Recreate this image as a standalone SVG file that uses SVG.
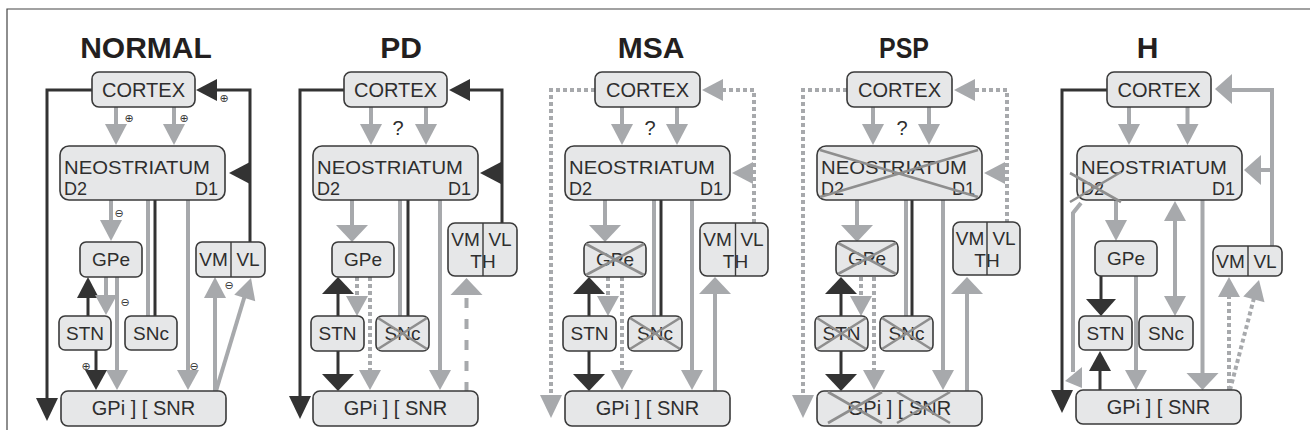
<svg xmlns="http://www.w3.org/2000/svg" width="1310" height="438" viewBox="0 0 1310 438">
  <style>
    .d { stroke: #333333; fill: none; stroke-width: 3; }
    .g { stroke: #a7a9ac; fill: none; stroke-width: 4; }
    .fd { fill: #333333; }
    .fg { fill: #a7a9ac; }
    .dot { stroke-dasharray: 4 3; }
    .box { fill: #e6e7e8; stroke: #3a3a3a; stroke-width: 1.6; }
    .div { stroke: #3a3a3a; stroke-width: 1.4; }
    .x { stroke: #8e8e8e; stroke-width: 2.6; fill: none; }
    .t { font-family: 'Liberation Sans', Arial, sans-serif; font-size: 20px; fill: #2e2e2e; }
    .s { font-size: 19px; }
    .n { font-size: 18px; }
    .m { text-anchor: middle; }
    .e { text-anchor: end; }
    .ttl { font-family: 'Liberation Sans', Arial, sans-serif; font-weight: bold; font-size: 30px; fill: #231f20; text-anchor: middle; }
    .sg { font-family: 'DejaVu Sans', sans-serif; font-size: 11px; fill: #333333; text-anchor: middle; }
    .frame { stroke: #444444; stroke-width: 1.2; fill: none; }
  </style>
  <defs>
    <!-- arrowheads: tip at origin, pointing down (+y) -->
    <path id="hs" d="M-11,-21 L11,-21 L0,0 Z"/>
    <path id="hm" d="M-11,-20 L11,-20 L0,0 Z"/>
    <path id="hl" d="M-16,-17 L16,-17 L0,0 Z"/>
    <path id="hk" d="M-11,-23 L11,-23 L0,0 Z"/>
    <path id="hw" d="M-15,-17 L15,-17 L0,0 Z"/>
  </defs>

  <rect width="1310" height="438" fill="#ffffff"/>
  <path class="frame" d="M7,430 V9 H1310"/>

  <!-- titles -->
  <text class="ttl" x="146" y="58">NORMAL</text>
  <text class="ttl" x="401" y="58">PD</text>
  <text class="ttl" x="651" y="58">MSA</text>
  <text class="ttl" x="904" y="58" textLength="50" lengthAdjust="spacingAndGlyphs">PSP</text>
  <text class="ttl" x="1147.5" y="58">H</text>

  <!-- ===================== NORMAL ===================== -->
  <g id="normal">
    <g id="normal-connectors">
      <path class="d" d="M92,90 H47 V400"/>
      <use href="#hk" class="fd" transform="translate(47,421)"/>
      <path class="d" stroke-width="3.5" d="M250,242 V90 H214"/>
      <use href="#hs" class="fd" transform="translate(196,90) rotate(90)"/>
      <use href="#hs" class="fd" transform="translate(229,173) rotate(90)"/>
      <path class="g" d="M116,107 V126 M174,107 V126"/>
      <use href="#hs" class="fg" transform="translate(116,145)"/>
      <use href="#hs" class="fg" transform="translate(174,145)"/>
      <path class="g" d="M111,200 V222"/>
      <use href="#hs" class="fg" transform="translate(111,241)"/>
      <path class="g" stroke-width="2" d="M148,200 V316"/>
      <path class="d" d="M155,200 V316"/>
      <path class="g" d="M188,200 V372"/>
      <use href="#hm" class="fg" transform="translate(188,390)"/>
      <path class="d" stroke-width="4" d="M88,316 V296"/>
      <use href="#hs" class="fd" transform="translate(88,277) rotate(180)"/>
      <path class="g" d="M106,277 V297"/>
      <use href="#hm" class="fg" transform="translate(106,315)"/>
      <path class="g" d="M117,277 V372"/>
      <use href="#hm" class="fg" transform="translate(117,390)"/>
      <path class="d" stroke-width="4" d="M96,350 V372"/>
      <use href="#hm" class="fd" transform="translate(96,390)"/>
      <path class="g" d="M215,391 V296"/>
      <use href="#hs" class="fg" transform="translate(215,277) rotate(180)"/>
      <path class="g" d="M216,391 L245,295"/>
      <use href="#hs" class="fg" transform="translate(251,278) rotate(197.3)"/>
      <text class="sg" x="224" y="102">⊕</text>
      <text class="sg" x="129" y="122">⊕</text>
      <text class="sg" x="184" y="122">⊕</text>
      <text class="sg" x="119" y="217">⊖</text>
      <text class="sg" x="125" y="306">⊖</text>
      <text class="sg" x="194" y="370">⊖</text>
      <text class="sg" x="86" y="370">⊕</text>
      <text class="sg" x="229" y="289">⊖</text>
    </g>
    <g id="normal-cortex"><rect class="box" x="92" y="72" width="103" height="35" rx="7"/><text class="t m" x="143.5" y="97">CORTEX</text></g>
    <g id="normal-neostriatum"><rect class="box" x="60" y="146" width="165" height="54" rx="9"/><text class="t n" x="64" y="174" textLength="146" lengthAdjust="spacingAndGlyphs">NEOSTRIATUM</text><text class="t n" x="64" y="195">D2</text><text class="t n e" x="218" y="195">D1</text></g>
    <g id="normal-gpe"><rect class="box" x="80" y="242" width="62" height="35" rx="6"/><text class="t s m" x="111" y="266">GPe</text></g>
    <g id="normal-stn"><rect class="box" x="59" y="316" width="52" height="34" rx="6"/><text class="t s m" x="85" y="340">STN</text></g>
    <g id="normal-snc"><rect class="box" x="125" y="316" width="52" height="34" rx="6"/><text class="t s m" x="151" y="340">SNc</text></g>
    <g id="normal-gpi-snr"><rect class="box" x="61" y="391" width="165" height="35" rx="7"/><text class="t m" x="143.5" y="415">GPi ] [ SNR</text></g>
    <g id="normal-vm-vl"><rect class="box" x="196" y="242" width="69" height="35" rx="6"/><line class="div" x1="231" y1="242" x2="231" y2="277"/><text class="t s m" x="213.5" y="266">VM</text><text class="t s m" x="248" y="266">VL</text></g>
  </g>

  <!-- ===================== PD ===================== -->
  <g id="pd" transform="translate(252,0)">
    <g id="pd-connectors">
      <path class="d" d="M92,90 H48 V398"/>
      <use href="#hk" class="fd" transform="translate(48,419)"/>
      <path class="d" stroke-width="3.5" d="M250,223 V90 H216"/>
      <use href="#hs" class="fd" transform="translate(197,90) rotate(90)"/>
      <use href="#hs" class="fd" transform="translate(228,173) rotate(90)"/>
      <path class="g" d="M119,107 V126 M174,107 V126"/>
      <use href="#hs" class="fg" transform="translate(119,145)"/>
      <use href="#hs" class="fg" transform="translate(174,145)"/>
      <text class="t m" x="146" y="135">?</text>
      <path class="g" stroke-width="11" d="M100,200 V227"/>
      <use href="#hl" class="fg" transform="translate(100,242)"/>
      <path class="g" stroke-width="2" d="M148,200 V316"/>
      <path class="d" d="M156,200 V316"/>
      <path class="g" d="M188,200 V372"/>
      <use href="#hm" class="fg" transform="translate(188,390)"/>
      <path class="d" stroke-width="10" d="M86,316 V290"/>
      <use href="#hl" class="fd" transform="translate(86,277) rotate(180)"/>
      <path class="d" stroke-width="10" d="M86,350 V377"/>
      <use href="#hl" class="fd" transform="translate(86,391)"/>
      <path class="g dot" d="M105,277 V298"/>
      <use href="#hm" class="fg" transform="translate(105,316)"/>
      <path class="g dot" d="M118,277 V372"/>
      <use href="#hm" class="fg" transform="translate(118,390)"/>
      <path class="g" stroke-width="13" stroke-dasharray="10 11" d="M214.5,392 V294"/>
      <use href="#hl" class="fg" transform="translate(214.5,278) rotate(180)"/>
    </g>
    <g id="pd-cortex"><rect class="box" x="92" y="72" width="103" height="35" rx="7"/><text class="t m" x="143.5" y="97">CORTEX</text></g>
    <g id="pd-neostriatum"><rect class="box" x="61" y="146" width="165" height="54" rx="9"/><text class="t n" x="65" y="174" textLength="146" lengthAdjust="spacingAndGlyphs">NEOSTRIATUM</text><text class="t n" x="65" y="195">D2</text><text class="t n e" x="219" y="195">D1</text></g>
    <g id="pd-gpe"><rect class="box" x="80" y="242" width="62" height="35" rx="6"/><text class="t s m" x="111" y="266">GPe</text></g>
    <g id="pd-stn"><rect class="box" x="59" y="316" width="53" height="35" rx="6"/><text class="t s m" x="85.5" y="340">STN</text></g>
    <g id="pd-snc"><rect class="box" x="124" y="316" width="53" height="35" rx="6"/><text class="t s m" x="150.5" y="340">SNc</text><path class="x" d="M126,318 L175,349 M126,349 L175,318"/></g>
    <g id="pd-gpi-snr"><rect class="box" x="61" y="391" width="165" height="35" rx="7"/><text class="t m" x="143.5" y="415">GPi ] [ SNR</text></g>
    <g id="pd-vm-vl-th"><rect class="box" x="196" y="223" width="69" height="53" rx="7"/><line class="div" x1="231" y1="223" x2="231" y2="276"/><text class="t s m" x="213.5" y="246">VM</text><text class="t s m" x="248" y="246">VL</text><text class="t s m" x="231" y="268">TH</text></g>
  </g>

  <!-- ===================== MSA ===================== -->
  <g id="msa" transform="translate(504,0)">
    <g id="msa-connectors">
      <path class="g dot" d="M91,90 H47 V399"/>
      <use href="#hk" class="fg" transform="translate(47,418)"/>
      <path class="g dot" d="M250,223 V90 H218"/>
      <use href="#hs" class="fg" transform="translate(198,90) rotate(90)"/>
      <use href="#hs" class="fg" transform="translate(228,173) rotate(90)"/>
      <path class="g" d="M118,107 V126 M173,107 V126"/>
      <use href="#hs" class="fg" transform="translate(118,145)"/>
      <use href="#hs" class="fg" transform="translate(173,145)"/>
      <text class="t m" x="146" y="135">?</text>
      <path class="g" stroke-width="11" d="M101,200 V227"/>
      <use href="#hl" class="fg" transform="translate(101,242)"/>
      <path class="g" stroke-width="2" d="M150,200 V316"/>
      <path class="d" d="M157,200 V316"/>
      <path class="g" d="M188,200 V372"/>
      <use href="#hm" class="fg" transform="translate(188,390)"/>
      <path class="d" stroke-width="10" d="M85,316 V290"/>
      <use href="#hl" class="fd" transform="translate(85,277) rotate(180)"/>
      <path class="d" stroke-width="10" d="M85,351 V377"/>
      <use href="#hl" class="fd" transform="translate(85,391)"/>
      <path class="g dot" d="M104,277 V298"/>
      <use href="#hm" class="fg" transform="translate(104,316)"/>
      <path class="g dot" d="M118,277 V372"/>
      <use href="#hm" class="fg" transform="translate(118,390)"/>
      <path class="g" stroke-width="12" d="M211,391 V291"/>
      <use href="#hl" class="fg" transform="translate(211,277) rotate(180)"/>
    </g>
    <g id="msa-cortex"><rect class="box" x="91" y="72" width="105" height="35" rx="7"/><text class="t m" x="143.5" y="97">CORTEX</text></g>
    <g id="msa-neostriatum"><rect class="box" x="61" y="146" width="165" height="54" rx="9"/><text class="t n" x="65" y="174" textLength="146" lengthAdjust="spacingAndGlyphs">NEOSTRIATUM</text><text class="t n" x="65" y="195">D2</text><text class="t n e" x="219" y="195">D1</text></g>
    <g id="msa-gpe"><rect class="box" x="80" y="242" width="62" height="35" rx="6"/><text class="t s m" x="111" y="266">GPe</text><path class="x" d="M82,244 L140,275 M82,275 L140,244"/></g>
    <g id="msa-stn"><rect class="box" x="59" y="316" width="53" height="35" rx="6"/><text class="t s m" x="85.5" y="340">STN</text></g>
    <g id="msa-snc"><rect class="box" x="124" y="316" width="54" height="35" rx="6"/><text class="t s m" x="151" y="340">SNc</text><path class="x" d="M126,318 L176,349 M126,349 L176,318"/></g>
    <g id="msa-gpi-snr"><rect class="box" x="61" y="391" width="165" height="35" rx="7"/><text class="t m" x="143.5" y="415">GPi ] [ SNR</text></g>
    <g id="msa-vm-vl-th"><rect class="box" x="196" y="223" width="68" height="53" rx="7"/><line class="div" x1="231.5" y1="223" x2="231.5" y2="276"/><text class="t s m" x="213.5" y="246">VM</text><text class="t s m" x="248" y="246">VL</text><text class="t s m" x="231.5" y="268">TH</text></g>
  </g>

  <!-- ===================== PSP ===================== -->
  <g id="psp" transform="translate(756,0)">
    <g id="psp-connectors">
      <path class="g dot" d="M91,90 H47 V399"/>
      <use href="#hk" class="fg" transform="translate(47,418)"/>
      <path class="g dot" d="M251,223 V90 H218"/>
      <use href="#hs" class="fg" transform="translate(198,90) rotate(90)"/>
      <use href="#hs" class="fg" transform="translate(228,173) rotate(90)"/>
      <path class="g" d="M117,107 V126 M173,107 V126"/>
      <use href="#hs" class="fg" transform="translate(117,145)"/>
      <use href="#hs" class="fg" transform="translate(173,145)"/>
      <text class="t m" x="146" y="135">?</text>
      <path class="g" stroke-width="11" d="M101,200 V227"/>
      <use href="#hl" class="fg" transform="translate(101,242)"/>
      <path class="g" stroke-width="2" d="M150,200 V316"/>
      <path class="d" d="M156,200 V316"/>
      <path class="g" d="M187,200 V372"/>
      <use href="#hm" class="fg" transform="translate(187,390)"/>
      <path class="d" stroke-width="10" d="M85,316 V290"/>
      <use href="#hl" class="fd" transform="translate(85,277) rotate(180)"/>
      <path class="d" stroke-width="10" d="M85,351 V377"/>
      <use href="#hl" class="fd" transform="translate(85,391)"/>
      <path class="g dot" d="M105,277 V298"/>
      <use href="#hm" class="fg" transform="translate(105,316)"/>
      <path class="g dot" d="M118,277 V372"/>
      <use href="#hm" class="fg" transform="translate(118,390)"/>
      <path class="g" stroke-width="12" d="M211,391 V291"/>
      <use href="#hl" class="fg" transform="translate(211,277) rotate(180)"/>
    </g>
    <g id="psp-cortex"><rect class="box" x="91" y="72" width="105" height="35" rx="7"/><text class="t m" x="143.5" y="97">CORTEX</text></g>
    <g id="psp-neostriatum"><rect class="box" x="61" y="146" width="165" height="54" rx="9"/><text class="t n" x="65" y="174" textLength="146" lengthAdjust="spacingAndGlyphs">NEOSTRIATUM</text><text class="t n" x="65" y="195">D2</text><text class="t n e" x="219" y="195">D1</text><path class="x" d="M64,150 L222,197 M64,197 L222,150"/></g>
    <g id="psp-gpe"><rect class="box" x="80" y="241" width="62" height="35" rx="6"/><text class="t s m" x="111" y="265">GPe</text><path class="x" d="M82,243 L140,274 M82,274 L140,243"/></g>
    <g id="psp-stn"><rect class="box" x="59" y="316" width="53" height="35" rx="6"/><text class="t s m" x="85.5" y="340">STN</text><path class="x" d="M61,318 L110,349 M61,349 L110,318"/></g>
    <g id="psp-snc"><rect class="box" x="124" y="316" width="53" height="35" rx="6"/><text class="t s m" x="150.5" y="340">SNc</text><path class="x" d="M126,318 L175,349 M126,349 L175,318"/></g>
    <g id="psp-gpi-snr"><rect class="box" x="61" y="391" width="165" height="35" rx="7"/><text class="t m" x="143.5" y="415">GPi ] [ SNR</text><path class="x" d="M72,392 L126,423 M72,423 L126,392 M141,392 L194,423 M141,423 L194,392"/></g>
    <g id="psp-vm-vl-th"><rect class="box" x="197" y="222" width="67" height="53" rx="7"/><line class="div" x1="231" y1="222" x2="231" y2="275"/><text class="t s m" x="214" y="245">VM</text><text class="t s m" x="248" y="245">VL</text><text class="t s m" x="231" y="267">TH</text></g>
  </g>

  <!-- ===================== H ===================== -->
  <g id="h" transform="translate(1016,0)">
    <g id="h-connectors">
      <path class="d" d="M91,90 H46 V392"/>
      <use href="#hk" class="fd" transform="translate(46,413)"/>
      <path class="g" stroke-width="11" d="M256,246 V90 H213"/>
      <use href="#hw" class="fg" transform="translate(199,89) rotate(90)"/>
      <path class="g" stroke-width="11" d="M256,170 H243"/>
      <use href="#hw" class="fg" transform="translate(228,170) rotate(90)"/>
      <path class="g" d="M113,107 V126 M171.5,107 V126"/>
      <use href="#hs" class="fg" transform="translate(113,145)"/>
      <use href="#hs" class="fg" transform="translate(171.5,145)"/>
      <path class="g" d="M100,200 V222"/>
      <use href="#hs" class="fg" transform="translate(100,241)"/>
      <path class="g" d="M65,203 L57,213 V372"/>
      <path class="fg" d="M49,381 L66,367 L66,388 Z"/>
      <path class="d" stroke-width="12" d="M85,275 V301"/>
      <use href="#hw" class="fd" transform="translate(85,316)"/>
      <path class="d" stroke-width="4" d="M84,390 V368"/>
      <use href="#hm" class="fd" transform="translate(84,351) rotate(180)"/>
      <path class="g" d="M120,275 V372"/>
      <use href="#hm" class="fg" transform="translate(120,390)"/>
      <path class="g" d="M159,219 V298"/>
      <use href="#hm" class="fg" transform="translate(159,201) rotate(180)"/>
      <use href="#hm" class="fg" transform="translate(159,316)"/>
      <path class="g" stroke-width="11" d="M186.5,200 V376"/>
      <use href="#hl" class="fg" transform="translate(186.5,390)"/>
      <path class="g dot" stroke-width="5" d="M213,390 V294"/>
      <use href="#hm" class="fg" transform="translate(213,277) rotate(180)"/>
      <path class="g dot" stroke-width="5" d="M214,390 L238,298"/>
      <use href="#hm" class="fg" transform="translate(243,280) rotate(194.8)"/>
    </g>
    <g id="h-cortex"><rect class="box" x="91" y="72" width="104" height="35" rx="7"/><text class="t m" x="143" y="97">CORTEX</text></g>
    <g id="h-neostriatum"><rect class="box" x="61" y="146" width="165" height="54" rx="9"/><text class="t n" x="65" y="174" textLength="146" lengthAdjust="spacingAndGlyphs">NEOSTRIATUM</text><text class="t n" x="65" y="195">D2</text><text class="t n e" x="219" y="195">D1</text><path class="x" d="M54,173 L105,202 M54,202 L105,172"/></g>
    <g id="h-gpe"><rect class="box" x="79" y="241" width="62" height="35" rx="6"/><text class="t s m" x="110" y="265">GPe</text></g>
    <g id="h-stn"><rect class="box" x="63" y="316" width="53" height="34" rx="6"/><text class="t s m" x="89.5" y="340">STN</text></g>
    <g id="h-snc"><rect class="box" x="123" y="316" width="54" height="34" rx="6"/><text class="t s m" x="150" y="340">SNc</text></g>
    <g id="h-gpi-snr"><rect class="box" x="60" y="390" width="165" height="34" rx="7"/><text class="t m" x="142.5" y="414">GPi ] [ SNR</text></g>
    <g id="h-vm-vl"><rect class="box" x="197" y="246" width="69" height="30" rx="6"/><line class="div" x1="232" y1="246" x2="232" y2="276"/><text class="t s m" x="214.5" y="268">VM</text><text class="t s m" x="249" y="268">VL</text></g>
  </g>
</svg>
